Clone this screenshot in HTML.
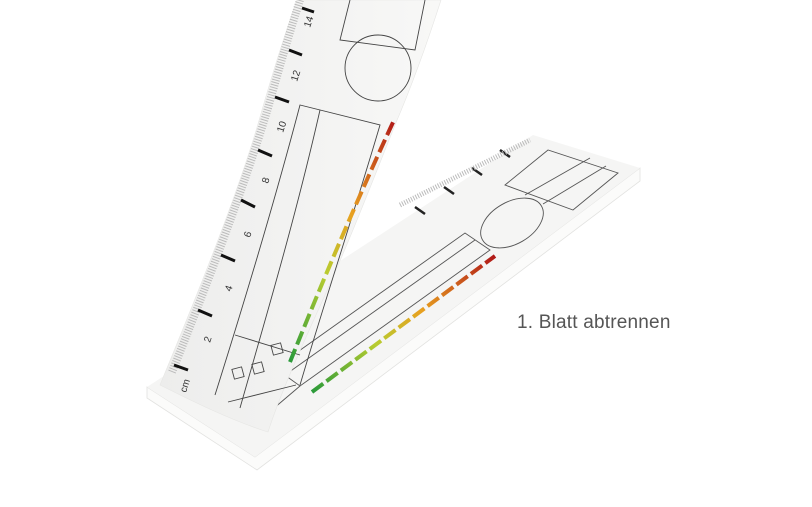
<!DOCTYPE html>
<html><head><meta charset="utf-8">
<style>
html,body{margin:0;padding:0;background:#fff;}
body{width:812px;height:507px;overflow:hidden;position:relative;font-family:"Liberation Sans",sans-serif;}
.lbl{position:absolute;left:517px;top:312px;font-size:19px;color:#555;letter-spacing:0.2px;}
</style></head><body>
<svg width="812" height="507" viewBox="0 0 812 507" style="position:absolute;left:0;top:0">
<defs>
<linearGradient id="sh" x1="0" y1="0" x2="1" y2="0">
<stop offset="0" stop-color="#ededec"/><stop offset="1" stop-color="#f8f8f7"/>
</linearGradient>
<linearGradient id="scl" x1="0" y1="1" x2="1" y2="0">
<stop offset="0" stop-color="#2a9a3a"/><stop offset="0.35" stop-color="#b8cc30"/><stop offset="0.6" stop-color="#e8a020"/><stop offset="1" stop-color="#b01818"/>
</linearGradient>
</defs>
<!-- pad thickness -->
<polygon points="147,387 147,398 257,470 640,181 640,168 255,457" fill="#fbfbfa" stroke="#e2e2e0" stroke-width="0.8"/>
<!-- pad top -->
<polygon points="147,387 533,135 640,168 255,457" fill="#f5f5f4"/>
<!-- pad content -->
<g stroke="#555" stroke-width="0.9" fill="none">
<polygon points="505,185 548,150 618,173 573,210"/>
<line x1="525" y1="195" x2="590" y2="158"/>
<line x1="543" y1="204" x2="606" y2="166"/>
<ellipse cx="512" cy="223" rx="34" ry="21" transform="rotate(-30 512 223)"/>
<polygon points="275,368 465,233 490,250 300,386"/>
<line x1="285" y1="375" x2="475" y2="240"/>
<line x1="300" y1="386" x2="260" y2="420"/>
</g>
<g stroke="#222" stroke-width="2.5">
<line x1="415" y1="207" x2="425" y2="214"/>
<line x1="444" y1="187" x2="454" y2="194"/>
<line x1="472" y1="168" x2="482" y2="175"/>
<line x1="500" y1="150" x2="510" y2="157"/>
</g>
<line x1="400" y1="205" x2="530" y2="140" stroke="#bbb" stroke-width="5" stroke-dasharray="1 1.5"/>
<line x1="312" y1="392" x2="495" y2="256" stroke="url(#scl)" stroke-width="4" stroke-dasharray="14 4"/>
<!-- curled sheet -->
<path d="M160,385 C195,300 240,190 262,110 C275,65 288,25 297,0 L441,0 C425,50 410,90 395,125 C375,175 350,240 325,295 C300,350 280,395 268,432 C230,420 190,400 160,385 Z" fill="url(#sh)" stroke="#e6e6e4" stroke-width="0.6"/>
<!-- sheet ruler ticks -->
<path d="M172,372 C205,290 245,185 268,108 C280,65 292,25 300,0" fill="none" stroke="#bbb" stroke-width="8" stroke-dasharray="1 1.6"/>
<g stroke="#111" stroke-width="3">
<line x1="174" y1="365" x2="188" y2="370"/>
<line x1="198" y1="310" x2="212" y2="316"/>
<line x1="221" y1="255" x2="235" y2="261"/>
<line x1="241" y1="200" x2="255" y2="207"/>
<line x1="258" y1="150" x2="272" y2="156"/>
<line x1="275" y1="97" x2="289" y2="102"/>
<line x1="289" y1="50" x2="302" y2="55"/>
<line x1="302" y1="8" x2="314" y2="12"/>
</g>
<g font-size="10" fill="#333" font-family="Liberation Sans,sans-serif">
<text x="186" y="393" transform="rotate(-72 186 393)">cm</text>
<text x="210" y="343" transform="rotate(-72 210 343)">2</text>
<text x="231" y="292" transform="rotate(-72 231 292)">4</text>
<text x="250" y="238" transform="rotate(-72 250 238)">6</text>
<text x="268" y="184" transform="rotate(-72 268 184)">8</text>
<text x="283" y="133" transform="rotate(-72 283 133)">10</text>
<text x="297" y="82" transform="rotate(-72 297 82)">12</text>
<text x="310" y="28" transform="rotate(-72 310 28)">14</text>
</g>
<g stroke="#444" stroke-width="0.9" fill="none">
<path d="M215,395 C245,300 275,200 300,105 L380,125 C355,210 325,300 300,385"/>
<path d="M240,408 C265,320 295,220 320,110"/>
<path d="M228,402 L296,385"/>
<path d="M235,335 L300,355"/>
<circle cx="378" cy="68" r="33"/>
<path d="M350,0 L340,40 L415,50 L425,0"/>
<rect x="233" y="368" width="10" height="10" transform="rotate(-15 238 373)"/>
<rect x="253" y="363" width="10" height="10" transform="rotate(-15 258 368)"/>
<rect x="272" y="344" width="10" height="10" transform="rotate(-15 277 349)"/>
</g>
<path d="M290,362 C315,300 350,215 395,118" fill="none" stroke="url(#scl)" stroke-width="4" stroke-dasharray="14 5"/>
</svg>
<div class="lbl">1. Blatt abtrennen</div>
</body></html>
